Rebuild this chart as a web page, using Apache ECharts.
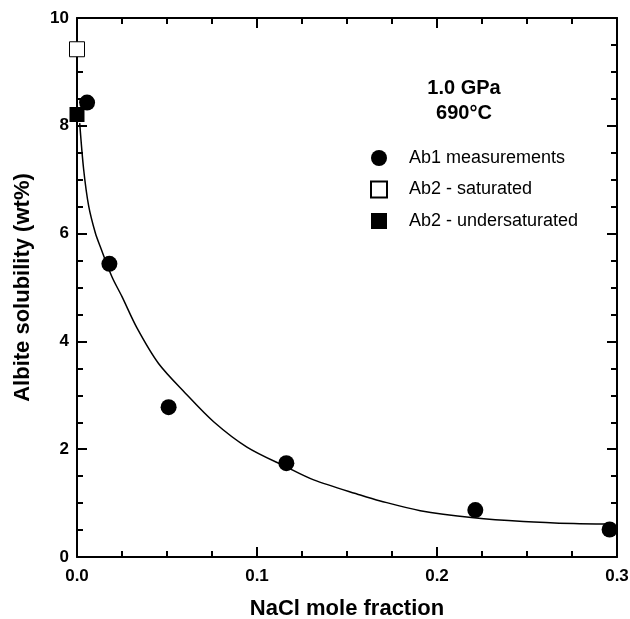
<!DOCTYPE html>
<html>
<head>
<meta charset="utf-8">
<script src="https://cdn.jsdelivr.net/npm/echarts@6/dist/echarts.min.js"></script>
<style>
  html, body { margin: 0; padding: 0; background: #fff; }
  #main { width: 630px; height: 619px; }
</style>
</head>
<body>
<div id="main"></div>
<script>
// measured points
var ab1X = [0.0056, 0.018, 0.0509, 0.1163, 0.2213, 0.2959];
var ab1Y = [8.43, 5.44, 2.78, 1.74, 0.87, 0.51];
var satX = [0.0];
var satY = [9.42];
var undersatX = [0.0];
var undersatY = [8.21];

// fitted curve
var fitX = [0.0015, 0.0037, 0.0065, 0.0102, 0.0129, 0.0194, 0.025, 0.0333, 0.0453, 0.0602, 0.0759, 0.0944, 0.1163, 0.1315, 0.1574, 0.1685, 0.1907, 0.2204, 0.248, 0.276, 0.2944];
var fitY = [8.05, 7.19, 6.51, 6.01, 5.76, 5.20, 4.83, 4.25, 3.59, 3.04, 2.51, 2.04, 1.67, 1.43, 1.15, 1.04, 0.86, 0.73, 0.66, 0.62, 0.61];

var xTicks = [0, 0.1, 0.2, 0.3];
var yTicks = [0, 2, 4, 6, 8, 10];

function pairs(xs, ys) {
  return xs.map(function (x, i) { return [x, ys[i]]; });
}

var myChart = echarts.init(document.getElementById('main'));
var font = 'Liberation Sans, Arial, sans-serif';

var axisCommon = {
  axisLine: { show: true, onZero: false, lineStyle: { color: '#000', width: 2 } },
  axisTick: { show: true, inside: true, length: 10, lineStyle: { color: '#000', width: 2 } },
  minorTick: { show: true, splitNumber: 4, length: 6, lineStyle: { color: '#000', width: 2 } },
  splitLine: { show: false }
};

var option = {
  animation: false,
  backgroundColor: '#fff',
  grid: { left: 77, right: 13, top: 18, bottom: 62, outerBoundsMode: 'none', containLabel: false },
  title: {
    text: '1.0 GPa\n690°C',
    left: 459,
    top: 71,
    textAlign: 'center',
    textStyle: { fontFamily: font, fontWeight: 'bold', fontSize: 20, lineHeight: 25, color: '#000' }
  },
  legend: {
    orient: 'vertical',
    left: 370,
    top: 149,
    padding: 0,
    itemGap: 13.5,
    itemWidth: 16,
    itemHeight: 16,
    data: ['Ab1 measurements', 'Ab2 - saturated', 'Ab2 - undersaturated'],
    textStyle: { fontFamily: font, fontSize: 18, color: '#000', padding: [0, 0, 0, 17] }
  },
  xAxis: [
    Object.assign({}, axisCommon, {
      type: 'value', min: 0, max: 0.3, interval: 0.1, position: 'bottom',
      name: 'NaCl mole fraction', nameLocation: 'middle', nameGap: 41,
      nameTextStyle: { fontFamily: font, fontWeight: 'bold', fontSize: 22, color: '#000' },
      axisLabel: {
        margin: 11, fontFamily: font, fontWeight: 'bold', fontSize: 17, color: '#000',
        formatter: function (v) { return v.toFixed(1); }
      }
    }),
    Object.assign({}, axisCommon, {
      type: 'value', min: 0, max: 0.3, interval: 0.1, position: 'top',
      axisLabel: { show: false }
    })
  ],
  yAxis: [
    Object.assign({}, axisCommon, {
      type: 'value', min: 0, max: 10, interval: 2, position: 'left',
      name: 'Albite solubility (wt%)', nameLocation: 'middle', nameGap: 43,
      nameTextStyle: { fontFamily: font, fontWeight: 'bold', fontSize: 22, color: '#000' },
      axisLabel: { margin: 8, fontFamily: font, fontWeight: 'bold', fontSize: 17, color: '#000' }
    }),
    Object.assign({}, axisCommon, {
      type: 'value', min: 0, max: 10, interval: 2, position: 'right',
      axisLabel: { show: false }
    })
  ],
  series: [
    {
      name: 'fit',
      type: 'line',
      data: pairs(fitX, fitY),
      smooth: 0.3,
      showSymbol: false,
      lineStyle: { color: '#000', width: 1.5 },
      z: 1
    },
    {
      name: 'Ab1 measurements',
      type: 'scatter',
      data: pairs(ab1X, ab1Y),
      symbol: 'circle',
      symbolSize: 16,
      clip: false,
      itemStyle: { color: '#000', opacity: 1 },
      z: 3
    },
    {
      name: 'Ab2 - saturated',
      type: 'scatter',
      data: pairs(satX, satY),
      symbol: 'rect',
      symbolSize: 15,
      clip: false,
      itemStyle: { color: '#fff', borderColor: '#000', borderWidth: 1, opacity: 1 },
      z: 3
    },
    {
      name: 'Ab2 - undersaturated',
      type: 'scatter',
      data: pairs(undersatX, undersatY),
      symbol: 'rect',
      symbolSize: 15,
      clip: false,
      itemStyle: { color: '#000', opacity: 1 },
      z: 3
    }
  ]
};

option && myChart.setOption(option);
</script>
</body>
</html>
